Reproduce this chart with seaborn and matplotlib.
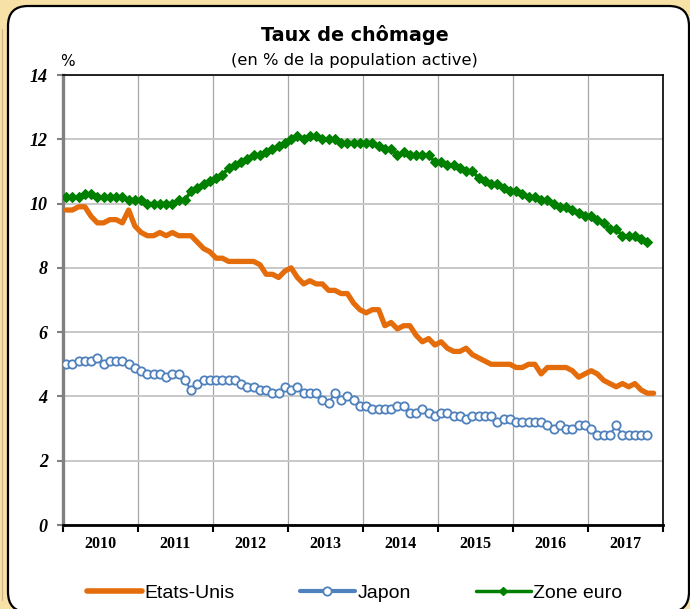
import matplotlib.pyplot as plt
import seaborn as sns
import pandas as pd
import numpy as np
from matplotlib.patches import FancyBboxPatch
from matplotlib.lines import Line2D

# monthly data, Jan 2010 onwards
years = ["2010", "2011", "2012", "2013", "2014", "2015", "2016", "2017"]

etats_unis = [
    9.8, 9.8, 9.9, 9.9, 9.6, 9.4, 9.4, 9.5, 9.5, 9.4, 9.8, 9.3,
    9.1, 9.0, 9.0, 9.1, 9.0, 9.1, 9.0, 9.0, 9.0, 8.8, 8.6, 8.5,
    8.3, 8.3, 8.2, 8.2, 8.2, 8.2, 8.2, 8.1, 7.8, 7.8, 7.7, 7.9,
    8.0, 7.7, 7.5, 7.6, 7.5, 7.5, 7.3, 7.3, 7.2, 7.2, 6.9, 6.7,
    6.6, 6.7, 6.7, 6.2, 6.3, 6.1, 6.2, 6.2, 5.9, 5.7, 5.8, 5.6,
    5.7, 5.5, 5.4, 5.4, 5.5, 5.3, 5.2, 5.1, 5.0, 5.0, 5.0, 5.0,
    4.9, 4.9, 5.0, 5.0, 4.7, 4.9, 4.9, 4.9, 4.9, 4.8, 4.6, 4.7,
    4.8, 4.7, 4.5, 4.4, 4.3, 4.4, 4.3, 4.4, 4.2, 4.1, 4.1,
]

japon = [
    5.0, 5.0, 5.1, 5.1, 5.1, 5.2, 5.0, 5.1, 5.1, 5.1, 5.0, 4.9,
    4.8, 4.7, 4.7, 4.7, 4.6, 4.7, 4.7, 4.5, 4.2, 4.4, 4.5, 4.5,
    4.5, 4.5, 4.5, 4.5, 4.4, 4.3, 4.3, 4.2, 4.2, 4.1, 4.1, 4.3,
    4.2, 4.3, 4.1, 4.1, 4.1, 3.9, 3.8, 4.1, 3.9, 4.0, 3.9, 3.7,
    3.7, 3.6, 3.6, 3.6, 3.6, 3.7, 3.7, 3.5, 3.5, 3.6, 3.5, 3.4,
    3.5, 3.5, 3.4, 3.4, 3.3, 3.4, 3.4, 3.4, 3.4, 3.2, 3.3, 3.3,
    3.2, 3.2, 3.2, 3.2, 3.2, 3.1, 3.0, 3.1, 3.0, 3.0, 3.1, 3.1,
    3.0, 2.8, 2.8, 2.8, 3.1, 2.8, 2.8, 2.8, 2.8, 2.8,
]

zone_euro = [
    10.2, 10.2, 10.2, 10.3, 10.3, 10.2, 10.2, 10.2, 10.2, 10.2, 10.1, 10.1,
    10.1, 10.0, 10.0, 10.0, 10.0, 10.0, 10.1, 10.1, 10.4, 10.5, 10.6, 10.7,
    10.8, 10.9, 11.1, 11.2, 11.3, 11.4, 11.5, 11.5, 11.6, 11.7, 11.8, 11.9,
    12.0, 12.1, 12.0, 12.1, 12.1, 12.0, 12.0, 12.0, 11.9, 11.9, 11.9, 11.9,
    11.9, 11.9, 11.8, 11.7, 11.7, 11.5, 11.6, 11.5, 11.5, 11.5, 11.5, 11.3,
    11.3, 11.2, 11.2, 11.1, 11.0, 11.0, 10.8, 10.7, 10.6, 10.6, 10.5, 10.4,
    10.4, 10.3, 10.2, 10.2, 10.1, 10.1, 10.0, 9.9, 9.9, 9.8, 9.7, 9.6,
    9.6, 9.5, 9.4, 9.2, 9.2, 9.0, 9.0, 9.0, 8.9, 8.8,
]

ORANGE = "#E46C0A"
BLUE = "#4F81BD"
GREEN = "#008000"


def month_frame(values):
    return pd.DataFrame({"mois": np.arange(len(values)), "taux": values})


sns.set_style("white")
plt.rcParams["font.family"] = ["DejaVu Sans"]
plt.rcParams["text.color"] = "black"

fig = plt.figure(figsize=(6.9, 6.09), dpi=100, facecolor="#F8E1A6")

# rounded white panel behind everything
panel = FancyBboxPatch((0.08, -0.03), 6.81, 6.06,
                       boxstyle="round,pad=0,rounding_size=0.2",
                       transform=fig.dpi_scale_trans, facecolor="white",
                       edgecolor="black", lw=1.6, zorder=-5)
fig.patches.append(panel)
fig.add_artist(Line2D([0.02, 0.02], [0.09, 5.8], transform=fig.dpi_scale_trans,
                      color="#C9B586", lw=0.8, zorder=-5))

ax = fig.add_axes([63 / 690, 84 / 609, 600 / 690, 450 / 609])
ax.set_zorder(2)
ax.set_facecolor("white")

sns.lineplot(data=month_frame(etats_unis), x="mois", y="taux", ax=ax,
             color=ORANGE, lw=3.8, solid_capstyle="round", zorder=3)
sns.lineplot(data=month_frame(japon), x="mois", y="taux", ax=ax,
             color=BLUE, lw=1.5, marker="o", markersize=6,
             markerfacecolor="white", markeredgecolor=BLUE,
             markeredgewidth=1.3, zorder=4)
sns.lineplot(data=month_frame(zone_euro), x="mois", y="taux", ax=ax,
             color=GREEN, lw=2.5, marker="D", markersize=5,
             markerfacecolor=GREEN, markeredgecolor=GREEN,
             markeredgewidth=0.8, zorder=5)

ax.set_xlim(-0.5, 95.5)
ax.set_ylim(0, 14)
ax.set_xlabel("")
ax.set_ylabel("")

ax.set_yticks(range(0, 15, 2))
ax.set_xticks(np.arange(-0.5, 96, 12))
ax.set_xticklabels([])
ax.set_xticks(np.arange(5.5, 96, 12), minor=True)
ax.set_xticklabels(years, minor=True)

ax.tick_params(axis="x", which="major", length=5, width=1.5, color="black",
               direction="out", bottom=True)
ax.tick_params(axis="x", which="minor", length=0, pad=8, bottom=True,
               labelcolor="black")
ax.tick_params(axis="y", length=4, width=1.5, color="#808080",
               direction="out", left=True, pad=7, labelcolor="black")

for lbl in ax.get_yticklabels():
    lbl.set_fontfamily("Liberation Serif")
    lbl.set_fontweight("bold")
    lbl.set_fontstyle("italic")
    lbl.set_fontsize(13)
for lbl in ax.get_xticklabels(minor=True):
    lbl.set_fontfamily("Liberation Serif")
    lbl.set_fontweight("bold")
    lbl.set_fontsize(11.5)

ax.xaxis.grid(True, which="major", color="#A6A6A6", lw=0.9)
ax.yaxis.grid(True, color="#C8C8C8", lw=1.4)
ax.set_axisbelow(True)

ax.spines["left"].set_color("#808080")
ax.spines["left"].set_linewidth(2.4)
ax.spines["bottom"].set_color("black")
ax.spines["bottom"].set_linewidth(2.0)
for side in ["top", "right"]:
    ax.spines[side].set_color("black")
    ax.spines[side].set_linewidth(1.2)

fig.text(355 / 690, 1 - 35 / 609, "Taux de chômage", ha="center", va="center",
         fontsize=13.8, fontweight="bold")
fig.text(354 / 690, 1 - 60 / 609, "(en % de la population active)",
         ha="center", va="center", fontsize=11.8)
fig.text(67 / 690, 1 - 61 / 609, "%", ha="center", va="center", fontsize=11)

handles = [
    Line2D([], [], color=ORANGE, lw=4, solid_capstyle="round"),
    Line2D([], [], color=BLUE, lw=3, marker="o", markersize=6,
           markerfacecolor="white", markeredgecolor=BLUE, markeredgewidth=1.3),
    Line2D([], [], color=GREEN, lw=2.5, marker="D", markersize=4.5,
           markerfacecolor=GREEN, markeredgecolor=GREEN),
]
fig.legend(handles, ["Etats-Unis", "Japon", "Zone euro"], loc="center",
           bbox_to_anchor=(355 / 690, 16 / 609), ncol=3, frameon=False,
           prop={"family": "Liberation Sans", "size": 14},
           handlelength=2.8, handletextpad=0.15, columnspacing=3.35)

fig.savefig("out.png", dpi=100, facecolor=fig.get_facecolor())
